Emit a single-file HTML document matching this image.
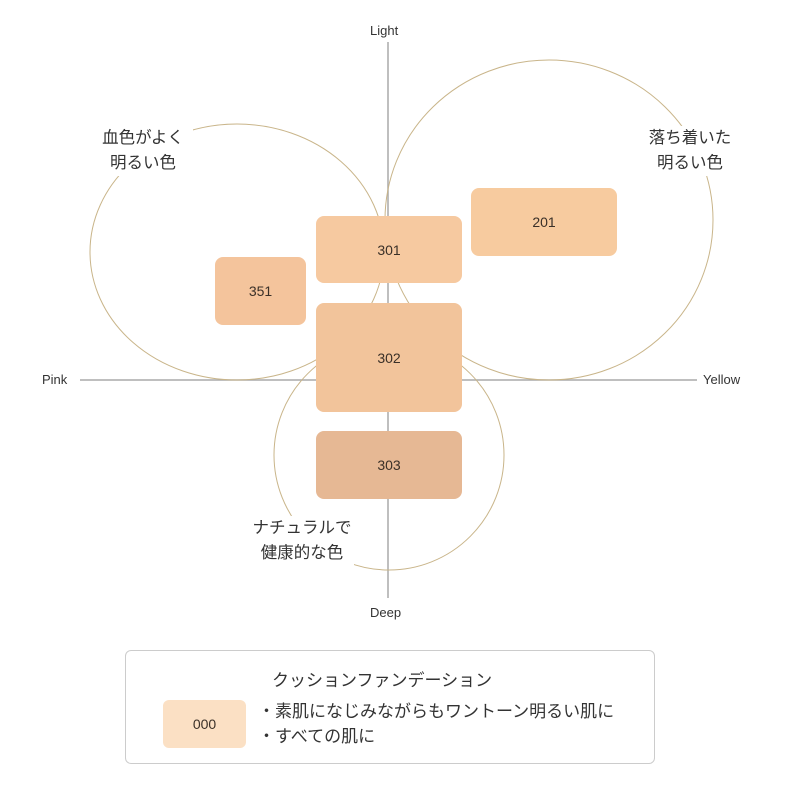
<!DOCTYPE html>
<html><head><meta charset="utf-8"><style>
body{margin:0;width:800px;height:800px;background:#fff;position:relative;overflow:hidden;font-family:"Liberation Sans","Noto Sans CJK JP",sans-serif;color:#333}
.b{position:absolute;border-radius:8px;display:flex;align-items:center;justify-content:center;font-size:14px;color:#3a3028}
.t{position:absolute;font-size:16.5px;line-height:25px;background:#fff;text-align:center;color:#333}
.a{position:absolute;font-size:13px;color:#333}
</style></head><body>
<svg width="800" height="800" style="position:absolute;left:0;top:0">
<line x1="388" y1="42" x2="388" y2="598" stroke="#aaa" stroke-width="1.5"/>
<line x1="80" y1="380" x2="697" y2="380" stroke="#aaa" stroke-width="1.5"/>
<g fill="none" stroke="#c9b58a" stroke-width="1">
<ellipse cx="237" cy="252" rx="147" ry="128"/>
<ellipse cx="549" cy="220" rx="164" ry="160"/>
<ellipse cx="389" cy="455" rx="115" ry="115"/>
</g>
</svg>
<div class="a" style="left:370px;top:23px">Light</div>
<div class="a" style="left:370px;top:605px">Deep</div>
<div class="a" style="left:42px;top:372px">Pink</div>
<div class="a" style="left:703px;top:372px">Yellow</div>
<div class="t" style="left:93px;top:126px;width:100px">血色がよく<br>明るい色</div>
<div class="t" style="left:645px;top:126px;width:90px">落ち着いた<br>明るい色</div>
<div class="t" style="left:250px;top:516px;width:104px">ナチュラルで<br>健康的な色</div>
<div class="b" style="left:316px;top:216px;width:146px;height:67px;background:#f6c9a0">301</div>
<div class="b" style="left:316px;top:303px;width:146px;height:109px;background:#f2c49b">302</div>
<div class="b" style="left:316px;top:431px;width:146px;height:68px;background:#e6b894">303</div>
<div class="b" style="left:215px;top:257px;width:91px;height:68px;background:#f4c49c">351</div>
<div class="b" style="left:471px;top:188px;width:146px;height:68px;background:#f7cb9f">201</div>
<div style="position:absolute;left:125px;top:650px;width:528px;height:112px;border:1px solid #ccc;border-radius:6px"></div>
<div style="position:absolute;left:272px;top:666px;font-size:17px">クッションファンデーション</div>
<div class="b" style="left:163px;top:700px;width:83px;height:48px;background:#fbe0c4;border-radius:6px">000</div>
<div style="position:absolute;left:258px;top:699px;font-size:17px;line-height:25px">・素肌になじみながらもワントーン明るい肌に<br>・すべての肌に</div>
</body></html>
